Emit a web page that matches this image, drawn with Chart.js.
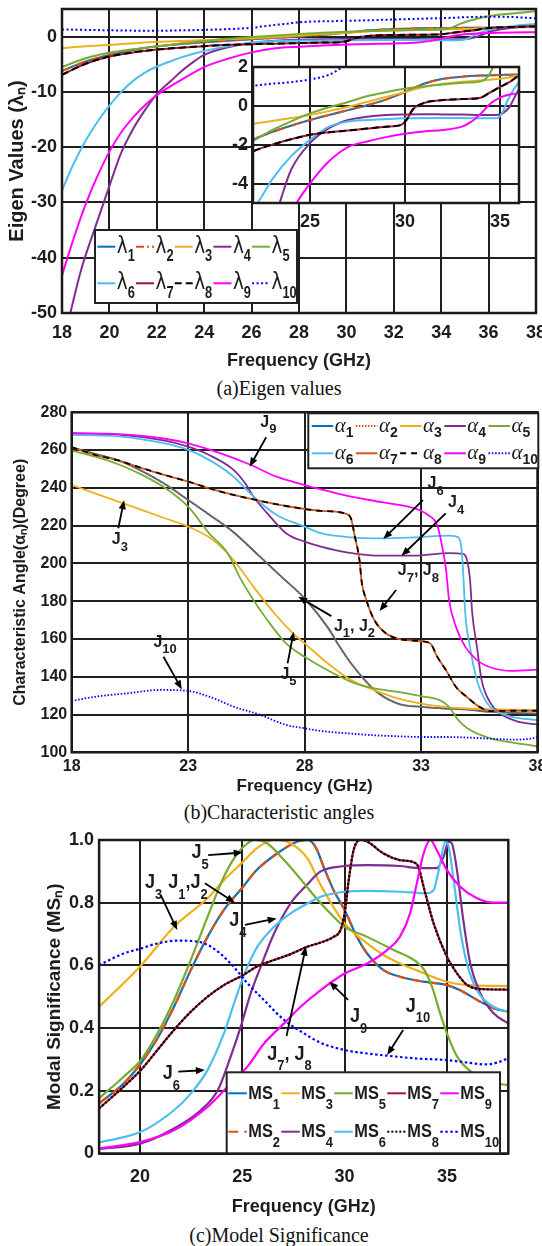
<!DOCTYPE html>
<html>
<head>
<meta charset="utf-8">
<script src="https://cdn.jsdelivr.net/npm/chart.js@4.4.1/dist/chart.umd.min.js"></script>
<style>
  html, body { margin: 0; padding: 0; background: #fff; }
  body { position: relative; width: 542px; height: 1246px; overflow: hidden; }
  canvas { position: absolute; }
  .caption { position: absolute; left: 0; width: 558px; text-align: center; color: #111;
             font: 20px 'Liberation Serif', 'Times New Roman', serif; line-height: 24px; }
</style>
</head>
<body>
<canvas id="eig"></canvas>
<canvas id="eigZoom"></canvas>
<canvas id="ang"></canvas>
<canvas id="ms"></canvas>
<div class="caption" style="top:376px">(a)Eigen values</div>
<div class="caption" style="top:800px">(b)Characteristic angles</div>
<div class="caption" style="top:1223px">(c)Model Significance</div>
<script>
// ---- eigenvalues, [GHz, lambda] ----
const lambda1 = [[18,-6.2],[19,-4.5],[20,-3.3],[21,-2.4],[22,-1.75],[23,-1.35],[24,-1.02],[25,-0.73],[26,-0.47],[27,-0.22],[28,0.03],[29,0.32],[30,0.71],[31,1.14],[32,1.39],[33,1.5],[34,1.56],[35,1.59],[36,1.62],[37,1.75],[38,1.9]];
const lambda2 = lambda1; // degenerate with mode 1
const lambda3 = [[18,-2.1],[19,-1.75],[20,-1.5],[21,-1.2],[22,-0.93],[23,-0.78],[24,-0.63],[25,-0.47],[26,-0.27],[27,-0.05],[28,0.2],[29,0.46],[30,0.71],[31,0.97],[32,1.14],[33,1.24],[34,1.31],[35,1.39],[36,1.56],[37,1.65],[38,1.7]];
const lambda4 = [[18.35,-50],[18.8,-42.3],[19.4,-34.5],[20,-27],[20.5,-21],[21,-16.7],[21.5,-13.3],[22,-10.4],[22.6,-8.0],[23,-6.4],[23.5,-4.7],[24,-3.3],[25,-1.92],[26,-1.15],[27,-0.73],[28,-0.56],[29,-0.47],[30,-0.44],[31,-0.43],[32,-0.44],[33,-0.45],[34,-0.47],[34.8,-0.47],[35.2,-0.35],[35.5,-0.05],[36,0.85],[37,1.6],[38,2.1]];
const lambda5 = [[18,-5.5],[19,-3.9],[20,-2.9],[21,-2.3],[22,-1.8],[23,-1.25],[24,-0.8],[25,-0.39],[26,-0.07],[27,0.2],[28,0.49],[29,0.7],[30,0.88],[31,1.0],[32,1.1],[33,1.19],[34,1.27],[34.4,1.56],[34.8,2.3],[35.3,3.0],[36,3.7],[37,4.2],[38,4.6]];
const lambda6 = [[18,-27.8],[18.5,-22.9],[19,-18.8],[19.5,-15.4],[20,-12.5],[20.5,-10.0],[21,-8.0],[21.5,-6.5],[22,-5.4],[22.5,-4.6],[23,-3.8],[24,-2.6],[25,-1.75],[26,-1.07],[27,-0.81],[28,-0.73],[29,-0.68],[30,-0.64],[32,-0.62],[34,-0.64],[34.8,-0.64],[35.1,-0.39],[35.4,0.29],[36,1.22],[37,1.9],[38,2.3]];
const lambda7 = [[18,-6.9],[19,-4.9],[20,-3.6],[21,-2.85],[22,-2.34],[23,-2.0],[24,-1.72],[25,-1.49],[26,-1.36],[27,-1.27],[28,-1.17],[29,-1.07],[29.8,-0.98],[30.1,-0.7],[30.4,-0.2],[31,0.15],[32,0.3],[33,0.35],[33.9,0.4],[34.5,0.7],[35,0.97],[35.5,1.22],[36,1.56],[37,1.75],[38,1.85]];
const lambda8 = lambda7; // degenerate with mode 7
const lambda9 = [[18,-43.2],[18.5,-36.4],[19,-30.3],[19.5,-25.2],[20,-20.8],[20.5,-17.3],[21,-14.6],[21.5,-12.4],[22,-10.6],[23,-7.9],[24,-5.5],[25,-4.0],[26,-2.85],[27,-2.12],[28,-1.83],[29,-1.61],[30,-1.44],[31,-1.32],[32,-1.24],[33,-1.07],[33.5,-0.81],[34,-0.39],[34.5,0.12],[35,0.42],[35.5,0.58],[36,0.66],[37,0.75],[38,0.8]];
const lambda10 = [[18,1.3],[20,1.15],[22,1.05],[23,1.14],[24,1.22],[25,1.36],[26,1.6],[26.7,1.98],[27.5,2.35],[28,2.6],[30,2.85],[32,3.1],[34,3.35],[36,3.6],[37,3.55],[38,3.3]];

// ---- characteristic angles, [GHz, degree] ----
const alpha1 = [[18,261.5],[19,258],[20,254.5],[21,249],[22,242],[23,233.6],[24,225],[25,216],[26,204.5],[27,193],[28,181.5],[29,166],[29.5,156],[30,147],[31,133],[32,125.8],[33,124],[34,123.2],[35,122.6],[36,121.4],[37,120.8],[38,120.5]];
const alpha2 = alpha1;
const alpha3 = [[18,241.5],[19,237.1],[20,232.7],[21,228.3],[22,223.9],[23,219.5],[24,213],[24.95,201.8],[25.8,187.7],[26.7,173.6],[27.5,163],[28,157.7],[29,147],[30,138.2],[31,132.9],[32,128.5],[33,125.8],[34,124.1],[35,123.2],[36,122.8],[38,122.3]];
const alpha4 = [[18,268.9],[20,268.2],[22,265],[23,261.8],[23.9,257.4],[24.95,249.5],[25.5,241.5],[25.8,235.4],[26.4,226.5],[27.2,216],[28,211.5],[28.7,208.9],[29.8,205.9],[31.3,204.1],[32.7,204.1],[34.2,205.4],[34.8,205],[34.96,202.4],[35.1,191.8],[35.2,173.5],[35.4,155.8],[35.6,138.2],[36,125.8],[36.4,120.5],[37.2,116.1],[38,114.7]];
const alpha5 = [[18,259.7],[19,256.5],[20,252.5],[21,247],[22,240],[23,230],[23.9,215.9],[24.7,205.4],[25.2,193],[25.8,180.7],[26.4,170],[27.2,157.7],[28,150.6],[28.7,145.4],[30,137.3],[31,133.8],[32,132],[33,129.7],[33.8,127.6],[34.2,124.1],[34.6,117],[35,112.6],[36,107.3],[37,105],[38,103.2]];
const alpha6 = [[18,268],[20,267.3],[22,263.5],[23,260.1],[23.9,254.8],[24.95,245.9],[25.8,235.4],[26.8,225.6],[28,219.5],[28.7,216],[30,213.8],[31.3,213.3],[32.7,213.8],[34.2,214.7],[34.6,213.8],[34.74,207.6],[34.8,197],[34.9,173.5],[35.1,155.8],[35.4,138.2],[35.85,125.8],[36.3,121.4],[36.9,118.8],[38,117]];
const alpha7 = [[18,261.5],[19,257.5],[20,254.5],[21,250.5],[22,246.8],[23,243.3],[24.4,238],[25.8,233.9],[27.2,230.4],[28.7,227.8],[29.8,226.2],[30,223.5],[30.15,214.7],[30.37,200.6],[30.44,191.1],[30.67,180],[31,169.9],[31.5,162.9],[32,160.2],[33,158.8],[33.4,157.6],[33.7,150.5],[34.07,143.5],[34.5,134.6],[34.96,129.4],[35.5,124.1],[36,121.8],[37,122],[38,122]];
const alpha8 = alpha7;
const alpha9 = [[18,268.9],[20,268.4],[22,266],[23,263.6],[24.4,258.3],[25.7,252.1],[26.8,245.9],[28,241.5],[28.7,239.2],[29.8,235.9],[31.3,232.4],[32.7,229.2],[33.3,225.6],[33.7,220],[33.9,209.4],[34.07,197],[34.2,181],[34.5,166.4],[34.9,155.8],[35.4,148.8],[36,144.9],[36.9,143.1],[38,143.8]];
const alpha10 = [[18,127.2],[19,129.4],[20.36,131.2],[21.8,133],[23,132.5],[23.9,129.5],[24.95,124.2],[26.1,119.8],[27.2,114.5],[28,112.7],[28.7,111.3],[30,109.9],[31,109],[32,108.5],[33,108.1],[34,108.1],[35,107.8],[36,107.2],[37,106.7],[37.7,107.2],[38,108]];

// ---- modal significance, [GHz, MS] ----
const ms1 = [[18,0.16],[19.2,0.223],[20.04,0.287],[20.85,0.367],[21.66,0.468],[22.48,0.585],[23.3,0.691],[24.1,0.777],[25.04,0.851],[25.7,0.904],[26.7,0.957],[27.7,0.995],[28.2,1.0],[28.6,0.975],[29,0.91],[29.46,0.84],[30,0.777],[30.6,0.691],[31.1,0.638],[31.9,0.585],[32.7,0.564],[33.86,0.548],[35,0.537],[35.65,0.521],[36.5,0.489],[37.3,0.463],[38,0.452]];
const ms2 = ms1;
const ms3 = [[18,0.468],[20.04,0.599],[21.66,0.723],[23.3,0.814],[24.1,0.872],[25.04,0.931],[25.7,0.973],[26.55,1.0],[27.36,0.989],[28.2,0.94],[28.8,0.86],[30,0.734],[31.1,0.67],[31.9,0.633],[32.7,0.606],[33.5,0.585],[35,0.548],[36,0.537],[38,0.534]];
const ms4 = [[18,0.014],[20.04,0.032],[21.66,0.08],[22.97,0.138],[23.8,0.202],[24.43,0.309],[24.92,0.404],[25.41,0.511],[25.9,0.596],[26.55,0.702],[27.36,0.798],[28.2,0.86],[28.83,0.9],[30,0.917],[31.1,0.92],[32.7,0.917],[33.7,0.91],[34.5,0.91],[34.84,0.947],[35.08,0.995],[35.24,0.989],[35.49,0.904],[35.8,0.745],[36.14,0.606],[36.63,0.511],[37.28,0.447],[38,0.415]];
const ms5 = [[18,0.176],[19.2,0.245],[20.04,0.298],[20.85,0.383],[21.66,0.489],[22.48,0.617],[23.3,0.755],[24.1,0.883],[24.76,0.957],[25.25,0.989],[25.57,1.0],[26.22,0.989],[27.04,0.936],[27.85,0.875],[28.67,0.81],[29.46,0.755],[30,0.723],[31.1,0.691],[32.4,0.649],[33.5,0.612],[33.9,0.585],[34.27,0.532],[34.67,0.447],[35,0.383],[35.5,0.309],[36.3,0.255],[37.1,0.229],[38,0.218]];
const ms6 = [[18,0.035],[20.04,0.069],[21.66,0.138],[22.48,0.191],[23.3,0.266],[24.1,0.383],[24.76,0.511],[25.25,0.596],[25.74,0.66],[26.55,0.723],[27.36,0.766],[28.2,0.798],[28.83,0.819],[30,0.835],[31.1,0.838],[32.7,0.835],[34.02,0.83],[34.35,0.84],[34.67,0.926],[34.92,0.995],[35.08,0.979],[35.33,0.872],[35.65,0.713],[35.98,0.606],[36.47,0.521],[37.28,0.468],[38,0.452]];
const ms7 = [[18,0.144],[19.2,0.213],[20.04,0.266],[20.85,0.33],[21.66,0.394],[22.48,0.452],[23.3,0.5],[24.1,0.537],[25.04,0.569],[25.7,0.596],[26.55,0.617],[27.36,0.636],[28.2,0.66],[28.83,0.673],[29.46,0.691],[29.8,0.713],[30,0.766],[30.2,0.872],[30.44,0.968],[30.77,1.0],[31.1,0.995],[31.9,0.957],[32.7,0.936],[33.37,0.929],[33.6,0.915],[33.86,0.851],[34.35,0.734],[35,0.628],[35.5,0.574],[36,0.537],[36.8,0.524],[38,0.523]];
const ms8 = ms7;
const ms9 = [[18,0.016],[20.04,0.037],[21.66,0.074],[23.3,0.149],[24.43,0.223],[25.25,0.277],[26.06,0.351],[27.04,0.415],[27.85,0.468],[28.83,0.521],[30,0.574],[31.1,0.606],[32.07,0.649],[32.7,0.691],[33.2,0.766],[33.53,0.862],[33.86,0.957],[34.19,1.0],[34.5,0.968],[35,0.904],[35.65,0.851],[36.47,0.814],[37.28,0.8],[38,0.8]];
const ms10 = [[18,0.601],[19.2,0.638],[20.04,0.654],[20.85,0.67],[21.83,0.679],[22.8,0.676],[23.46,0.66],[24.43,0.606],[25.25,0.543],[26.06,0.489],[27.04,0.426],[28.02,0.383],[28.83,0.353],[30,0.33],[31.1,0.319],[32.07,0.312],[33.53,0.303],[35,0.298],[36,0.29],[36.95,0.284],[37.6,0.293],[38,0.305]];

// ---- tick positions ----
const eigTicksX = [18, 20, 22, 24, 26, 28, 30, 32, 34, 36, 38];
const eigTicksY = [-50, -40, -30, -20, -10, 0];
const zoomTicksX = [25, 30, 35];
const zoomTicksY = [-4, -2, 0, 2];
const angTicksX = [18, 23, 28, 33, 38];
const angTicksY = [100, 120, 140, 160, 180, 200, 220, 240, 260, 280];
const msTicksX = [20, 25, 30, 35];
const msTicksY = [0, 0.2, 0.4, 0.6, 0.8, 1];

// matlab default palette
const COL = {
  blue: '#0072BD', orange: '#D95319', yellow: '#EDB120', purple: '#7E2F8E', green: '#77AC30',
  cyan: '#4DBEEE', wine: '#A2142F', black: '#000000', magenta: '#FF00FF', dblue: '#0000FF'
};
const SANS = "'Liberation Sans', Arial, sans-serif";
const NARROW = "'Liberation Sans Narrow', 'Arial Narrow', 'Liberation Sans', sans-serif";
const INK = '#1c1c1c';
const GRID = { color: '#1f1f1f', lineWidth: 2, drawTicks: false };

const eigSeries = [
  { n: '1', data: lambda1, color: COL.blue },
  { n: '2', data: lambda2, color: COL.orange, dash: [8, 3, 2, 3] },
  { n: '3', data: lambda3, color: COL.yellow },
  { n: '4', data: lambda4, color: COL.purple },
  { n: '5', data: lambda5, color: COL.green },
  { n: '6', data: lambda6, color: COL.cyan },
  { n: '7', data: lambda7, color: COL.wine },
  { n: '8', data: lambda8, color: COL.black, dash: [7, 4] },
  { n: '9', data: lambda9, color: COL.magenta },
  { n: '10', data: lambda10, color: COL.dblue, dash: [2, 2.5] }
];
const angSeries = [
  { n: '1', data: alpha1, color: COL.blue },
  { n: '2', data: alpha2, color: COL.orange, dash: [1.5, 1.5] },
  { n: '3', data: alpha3, color: COL.yellow },
  { n: '4', data: alpha4, color: COL.purple },
  { n: '5', data: alpha5, color: COL.green },
  { n: '6', data: alpha6, color: COL.cyan },
  { n: '7', data: alpha7, color: COL.orange },
  { n: '8', data: alpha8, color: COL.black, dash: [6, 5] },
  { n: '9', data: alpha9, color: COL.magenta },
  { n: '10', data: alpha10, color: COL.dblue, dash: [1.5, 1.8] }
];
const msSeries = [
  { n: '1', data: ms1, color: COL.blue },
  { n: '2', data: ms2, color: COL.orange, dash: [10, 6] },
  { n: '3', data: ms3, color: COL.yellow },
  { n: '4', data: ms4, color: COL.purple },
  { n: '5', data: ms5, color: COL.green },
  { n: '6', data: ms6, color: COL.cyan },
  { n: '7', data: ms7, color: COL.wine },
  { n: '8', data: ms8, color: COL.black, dash: [2, 2] },
  { n: '9', data: ms9, color: COL.magenta },
  { n: '10', data: ms10, color: COL.dblue, dash: [2.5, 2.5] }
];

// J labels with arrows, in data units: at = left/middle of the "J", tail -> head
const angNotes = [
  { text: 'J_9', at: [26.1, 274.6], tail: [26.35, 266.8], head: [25.64, 251.2] },
  { text: 'J_3', at: [19.72, 212.4], tail: [20.0, 218.6], head: [20.25, 233.5] },
  { text: 'J_10', at: [21.51, 158.1], tail: [21.94, 150.6], head: [22.73, 133.3] },
  { text: 'J_5', at: [26.96, 141.4], tail: [27.27, 147.1], head: [27.53, 163.8] },
  { text: 'J_1, J_2', at: [29.26, 166.4], tail: [29.15, 172.1], head: [27.73, 182.3] },
  { text: 'J_7, J_8', at: [32.0, 196.0], tail: [31.93, 185.9], head: [31.22, 174.8] },
  { text: 'J_6', at: [33.28, 242.0], tail: [33.08, 233.5], head: [31.38, 212.9] },
  { text: 'J_4', at: [34.16, 232.0], tail: [34.06, 226.5], head: [32.16, 204.0] }
];
const msNotes = [
  { text: 'J_5', at: [22.52, 0.96], tail: [23.33, 0.952], head: [25.02, 0.96] },
  { text: 'J_3', at: [20.24, 0.865], tail: [21.01, 0.825], head: [21.82, 0.713] },
  { text: 'J_1,J_2', at: [21.38, 0.865], tail: [23.17, 0.862], head: [24.64, 0.8] },
  { text: 'J_4', at: [24.36, 0.743], tail: [25.13, 0.729], head: [26.68, 0.75] },
  { text: 'J_6', at: [21.11, 0.256], tail: [21.87, 0.261], head: [23.17, 0.266] },
  { text: 'J_7, J_8', at: [26.22, 0.318], tail: [27.16, 0.375], head: [28.11, 0.66] },
  { text: 'J_9', at: [30.26, 0.439], tail: [30.17, 0.49], head: [29.25, 0.548] },
  { text: 'J_10', at: [32.99, 0.471], tail: [32.86, 0.394], head: [32.08, 0.314] }
];

function toDatasets(series, width) {
  return series.map((s, i) => ({
    label: s.n,
    data: s.data.map(([x, y]) => ({ x, y })),
    borderColor: s.color,
    borderDash: s.dash || [],
    borderWidth: width,
    pointRadius: 0,
    fill: false,
    cubicInterpolationMode: 'monotone',
    order: series.length - i // later series drawn on top
  }));
}

// text with "_" subscripts, e.g. "J_7, J_8"
function drawRich(ctx, str, x, y, st) {
  const parts = str.split(/_(\w+)/);
  ctx.save();
  ctx.translate(x, y);
  ctx.scale(st.sx || 1, 1);
  ctx.textBaseline = 'middle';
  ctx.textAlign = 'left';
  ctx.fillStyle = INK;
  let cx = 0;
  parts.forEach((p, i) => {
    if (!p) return;
    const sub = i % 2 === 1;
    ctx.font = sub ? st.subFont : st.font;
    ctx.fillText(p, cx, sub ? st.subDy : 0);
    cx += ctx.measureText(p).width;
  });
  ctx.restore();
}

function drawArrow(ctx, x0, y0, x1, y1) {
  const a = Math.atan2(y1 - y0, x1 - x0), L = 9, W = 3.6;
  const c = Math.cos(a), s = Math.sin(a);
  ctx.save();
  ctx.strokeStyle = '#000'; ctx.fillStyle = '#000'; ctx.lineWidth = 1.8;
  ctx.beginPath(); ctx.moveTo(x0, y0); ctx.lineTo(x1 - L * 0.7 * c, y1 - L * 0.7 * s); ctx.stroke();
  ctx.beginPath();
  ctx.moveTo(x1, y1);
  ctx.lineTo(x1 - L * c + W * s, y1 - L * s - W * c);
  ctx.lineTo(x1 - L * c - W * s, y1 - L * s + W * c);
  ctx.closePath(); ctx.fill();
  ctx.restore();
}

function drawLegend(chart, lg, org) {
  const ctx = chart.ctx;
  const [bx, by, bw, bh] = lg.box;
  ctx.save();
  ctx.fillStyle = '#fff';
  ctx.fillRect(bx - org.x, by - org.y, bw, bh);
  ctx.strokeStyle = '#222'; ctx.lineWidth = 2;
  ctx.strokeRect(bx - org.x, by - org.y, bw, bh);
  lg.rows.forEach((row, r) => row.forEach((di, c) => {
    const ds = chart.data.datasets[di];
    const x = lg.x0 + c * lg.step - org.x, y = lg.rowY[r] - org.y;
    ctx.save();
    ctx.strokeStyle = ds.borderColor; ctx.lineWidth = 2;
    ctx.setLineDash(ds.borderDash);
    ctx.beginPath(); ctx.moveTo(x, y); ctx.lineTo(x + lg.len, y); ctx.stroke();
    ctx.restore();
    drawRich(ctx, lg.prefix + '_' + ds.label, x + lg.len + 1.5, y, lg.style);
  }));
  ctx.restore();
}

function decor(cfg) {
  return {
    id: 'decor',
    beforeDraw(chart) {
      if (!cfg.fillArea) return;
      const { ctx, chartArea: a } = chart;
      ctx.save(); ctx.fillStyle = '#fff';
      ctx.fillRect(a.left, a.top, a.right - a.left, a.bottom - a.top);
      ctx.restore();
    },
    afterDraw(chart) {
      const { ctx, chartArea: a, scales } = chart;
      ctx.save();
      ctx.strokeStyle = '#1a1a1a'; ctx.lineWidth = 2.5;
      ctx.strokeRect(a.left, a.top, a.right - a.left, a.bottom - a.top);
      const px = p => [scales.x.getPixelForValue(p[0]), scales.y.getPixelForValue(p[1])];
      (cfg.notes || []).forEach(n => {
        const [tx, ty] = px(n.at);
        drawRich(ctx, n.text, tx, ty, cfg.noteStyle);
        const [x0, y0] = px(n.tail), [x1, y1] = px(n.head);
        drawArrow(ctx, x0, y0, x1, y1);
      });
      if (cfg.legend) drawLegend(chart, cfg.legend, cfg.org);
      ctx.restore();
    }
  };
}

// L: canvas placement and plot-area edges, all in page pixels
function buildChart(id, L, spec) {
  const cv = document.getElementById(id);
  cv.width = L.w; cv.height = L.h;
  cv.style.left = L.x + 'px'; cv.style.top = L.y + 'px';
  const xAxisH = L.y + L.h - L.bottom;
  const yAxisW = L.left - L.x;
  const axisTitle = t => t ? {
    display: true, text: t.text, color: INK,
    font: { family: t.family || SANS, size: t.size, weight: 'bold' },
    padding: { top: t.pad, bottom: t.pad }
  } : { display: false };
  return new Chart(cv, {
    type: 'line',
    data: { datasets: toDatasets(spec.series, spec.lineWidth) },
    options: {
      responsive: false, animation: false, devicePixelRatio: 1,
      layout: { padding: { left: 0, right: L.x + L.w - L.right, top: L.top - L.y, bottom: 0 } },
      plugins: { legend: { display: false }, tooltip: { enabled: false } },
      scales: {
        x: {
          type: 'linear', min: spec.x.min, max: spec.x.max,
          afterBuildTicks: s => { s.ticks = spec.x.ticks.map(v => ({ value: v })); },
          afterFit: s => { s.height = xAxisH; s.paddingLeft = 0; s.paddingRight = 0; },
          grid: GRID, border: { display: false },
          ticks: { font: spec.tickFont, color: INK, padding: spec.x.pad, maxRotation: 0, autoSkip: false },
          title: axisTitle(spec.x.title)
        },
        y: {
          type: 'linear', min: spec.y.min, max: spec.y.max,
          afterBuildTicks: s => { s.ticks = spec.y.ticks.map(v => ({ value: v })); },
          afterFit: s => { s.width = yAxisW; s.paddingTop = 0; s.paddingBottom = 0; },
          grid: GRID, border: { display: false },
          ticks: { font: spec.tickFont, color: INK, padding: spec.y.pad, autoSkip: false },
          title: axisTitle(spec.y.title)
        }
      }
    },
    plugins: [decor({ ...spec.decor, org: { x: L.x, y: L.y } })]
  });
}

const narrowTicks = { family: NARROW, size: 18, weight: 'bold' };

// (a) eigenvalues
buildChart('eig', { x: 0, y: 0, w: 542, h: 372, left: 62, right: 536, top: 9, bottom: 313 }, {
  series: eigSeries, lineWidth: 2, tickFont: narrowTicks,
  x: { min: 18, max: 38, ticks: eigTicksX, pad: 9, title: { text: 'Frequency (GHz)', family: NARROW, size: 18, pad: 0 } },
  y: { min: -50, max: 5, ticks: eigTicksY, pad: 5, title: { text: 'Eigen Values (λₙ)', size: 20, pad: 5 } },
  decor: {
    legend: {
      box: [95, 230, 202, 73], rowY: [246.7, 283.3], x0: 97.3, step: 38.7, len: 18,
      rows: [[0, 1, 2, 3, 4], [5, 6, 7, 8, 9]], prefix: 'λ',
      style: { font: "23px 'DejaVu Sans', sans-serif", subFont: "bold 16px " + SANS, subDy: 10, sx: 0.8 }
    }
  }
});

// (a) zoomed inset
buildChart('eigZoom', { x: 200, y: 55, w: 330, h: 185, left: 253, right: 519, top: 67, bottom: 203 }, {
  series: eigSeries, lineWidth: 2, tickFont: narrowTicks,
  x: { min: 22, max: 36, ticks: zoomTicksX, pad: 8.7 },
  y: { min: -5, max: 2, ticks: zoomTicksY, pad: 5 },
  decor: { fillArea: true }
});

// (b) characteristic angles
buildChart('ang', { x: 0, y: 400, w: 542, h: 397, left: 71.7, right: 537.5, top: 412.3, bottom: 752.3 }, {
  series: angSeries, lineWidth: 1.8, tickFont: { family: SANS, size: 16, weight: 'bold' },
  x: { min: 18, max: 38, ticks: angTicksX, pad: 4.8, title: { text: 'Frequency (GHz)', size: 17, pad: 0 } },
  y: { min: 100, max: 280, ticks: angTicksY, pad: 4.5, title: { text: 'Characteristic Angle(αₙ)(Degree)', size: 16, pad: 11.4 } },
  decor: {
    notes: angNotes,
    noteStyle: { font: "bold 16px " + SANS, subFont: "bold 13px " + SANS, subDy: 7 },
    legend: {
      box: [308.3, 413.3, 230, 55], rowY: [426, 453.3], x0: 311.7, step: 44.2, len: 21.5,
      rows: [[0, 1, 2, 3, 4], [5, 6, 7, 8, 9]], prefix: 'α',
      style: { font: "italic 21px 'Liberation Serif', serif", subFont: "bold 14px " + SANS, subDy: 7 }
    }
  }
});

// (c) modal significance
buildChart('ms', { x: 0, y: 825, w: 542, h: 393, left: 99.1, right: 508.3, top: 840, bottom: 1153.5 }, {
  series: msSeries, lineWidth: 2.2, tickFont: narrowTicks,
  x: { min: 18, max: 38, ticks: msTicksX, pad: 13, title: { text: 'Frequency (GHz)', family: NARROW, size: 18, pad: 0 } },
  y: { min: 0, max: 1, ticks: msTicksY, pad: 5, title: { text: 'Modal Significance (MSₙ)', size: 19, pad: 43.6 } },
  decor: {
    notes: msNotes,
    noteStyle: { font: "bold 21px " + SANS, subFont: "bold 15px " + SANS, subDy: 12.5, sx: 0.86 },
    legend: {
      box: [226.7, 1072.3, 273.3, 81], rowY: [1093.3, 1131.7], x0: 228.3, step: 53, len: 18.5,
      rows: [[0, 2, 4, 6, 8], [1, 3, 5, 7, 9]], prefix: 'MS',
      style: { font: "bold 19px " + SANS, subFont: "bold 15px " + SANS, subDy: 11.5, sx: 0.86 }
    }
  }
});
</script>
</body>
</html>
